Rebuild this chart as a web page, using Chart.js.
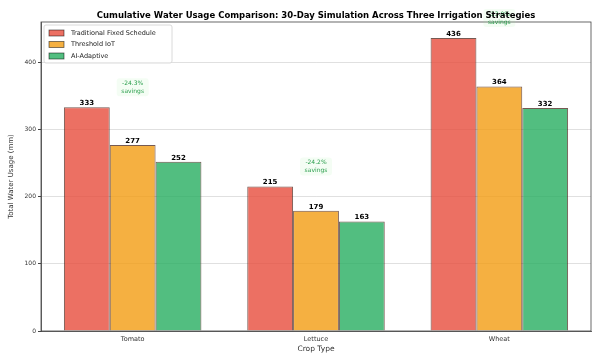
<!DOCTYPE html>
<html>
<head>
<meta charset="utf-8">
<script src="https://cdn.jsdelivr.net/npm/chart.js@4/dist/chart.umd.min.js"></script>
<style>
    html, body { margin: 0; padding: 0; background: #fff; }
    #wrap { width: 592px; height: 354px; }
</style>
</head>
<body>
<div id="wrap"><canvas id="chart"></canvas></div>
<script>
const crops = ['Tomato', 'Lettuce', 'Wheat'];
const strategies = ['Traditional Fixed Schedule', 'Threshold IoT', 'AI-Adaptive'];
const traditional = [333, 215, 436];
const threshold = [277, 179, 364];
const adaptive = [252, 163, 332];
const savings = ['-24.3%', '-24.2%', '-23.9%'];
const yTicks = [0, 100, 200, 300, 400];

const colors = ['rgba(231,76,60,0.8)', 'rgba(243,156,18,0.8)', 'rgba(39,174,96,0.8)'];
const FONT = "'DejaVu Sans', sans-serif";

// labels, annotations, legend, frame and title drawn by hand
const extras = {
    id: 'extras',
    afterDatasetsDraw(chart) {
        const ctx = chart.ctx;
        const area = chart.chartArea;
        const y = chart.scales.y;
        const x = chart.scales.x;
        ctx.save();

        // top/right spines
        ctx.strokeStyle = '#444';
        ctx.lineWidth = 0.8;
        ctx.strokeRect(area.left, area.top, area.right - area.left, area.bottom - area.top);

        // value labels
        ctx.fillStyle = '#000';
        ctx.font = 'bold 7px ' + FONT;
        ctx.textAlign = 'center';
        ctx.textBaseline = 'bottom';
        chart.data.datasets.forEach((ds, i) => {
            chart.getDatasetMeta(i).data.forEach((bar, j) => {
                ctx.fillText(String(ds.data[j]), bar.x, bar.y - 0.5);
            });
        });

        // savings notes
        crops.forEach((c, j) => {
            const top = Math.max(traditional[j], threshold[j], adaptive[j]);
            const cx = x.getPixelForValue(j);
            const cy = y.getPixelForValue(top + 30);
            ctx.fillStyle = 'rgba(144,238,144,0.1)';
            ctx.beginPath();
            ctx.roundRect(cx - 16, cy - 9, 32, 18, 3);
            ctx.fill();
            ctx.fillStyle = '#2a9e4c';
            ctx.font = '6px ' + FONT;
            ctx.textBaseline = 'middle';
            ctx.fillText(savings[j], cx, cy - 4);
            ctx.fillText('savings', cx, cy + 4);
        });

        // legend
        const lx = area.left + 3, ly = area.top + 3;
        ctx.fillStyle = 'rgba(255,255,255,0.8)';
        ctx.strokeStyle = '#d0d0d0';
        ctx.lineWidth = 0.8;
        ctx.beginPath();
        ctx.roundRect(lx, ly, 128, 38, 2);
        ctx.fill();
        ctx.stroke();
        ctx.font = '6.5px ' + FONT;
        ctx.textAlign = 'left';
        ctx.textBaseline = 'middle';
        strategies.forEach((s, i) => {
            const ry = ly + 8 + i * 11.5;
            ctx.fillStyle = colors[i];
            ctx.fillRect(lx + 5, ry - 3, 15, 6);
            ctx.strokeStyle = 'rgba(0,0,0,0.6)';
            ctx.strokeRect(lx + 5, ry - 3, 15, 6);
            ctx.fillStyle = '#222';
            ctx.fillText(s, lx + 27, ry);
        });

        // title
        ctx.fillStyle = '#000';
        ctx.font = 'bold 8.5px ' + FONT;
        ctx.textAlign = 'center';
        ctx.textBaseline = 'middle';
        ctx.fillText('Cumulative Water Usage Comparison: 30-Day Simulation Across Three Irrigation Strategies',
            (area.left + area.right) / 2, 16);
        ctx.restore();
    }
};

new Chart(document.getElementById('chart').getContext('2d'), {
    type: 'bar',
    data: {
        labels: crops,
        datasets: [
            { label: strategies[0], data: traditional, backgroundColor: colors[0] },
            { label: strategies[1], data: threshold, backgroundColor: colors[1] },
            { label: strategies[2], data: adaptive, backgroundColor: colors[2] }
        ].map(d => Object.assign(d, {
            borderColor: 'rgba(60,20,10,0.7)',
            borderWidth: 1,
            categoryPercentage: 0.75,
            barPercentage: 1.0
        }))
    },
    options: {
        responsive: true,
        maintainAspectRatio: false,
        animation: false,
        layout: { padding: { top: 22, right: 1, left: 7, bottom: 0 } },
        plugins: {
            legend: { display: false },
            title: { display: false },
            tooltip: { enabled: false }
        },
        scales: {
            x: {
                grid: { display: false, tickLength: 3 },
                border: { color: '#444', width: 0.8 },
                ticks: { color: '#333', font: { size: 6.5, family: FONT }, padding: 1 },
                title: { display: true, text: 'Crop Type', color: '#333', font: { size: 7.5, family: FONT }, padding: { top: 1, bottom: 0 } },
                afterFit(scale) { scale.height = 23; }
            },
            y: {
                min: 0,
                max: 460,
                afterBuildTicks(scale) { scale.ticks = yTicks.map(v => ({ value: v })); },
                grid: { color: 'rgba(0,0,0,0.12)', tickColor: '#444', tickLength: 3 },
                border: { color: '#444', width: 0.8 },
                ticks: { color: '#333', font: { size: 6, family: FONT }, padding: 2 },
                title: { display: true, text: 'Total Water Usage (mm)', color: '#333', font: { size: 7, family: FONT }, padding: { top: 0, bottom: 4 } },
                afterFit(scale) { scale.width = 34; }
            }
        }
    },
    plugins: [extras]
});
</script>
</body>
</html>
